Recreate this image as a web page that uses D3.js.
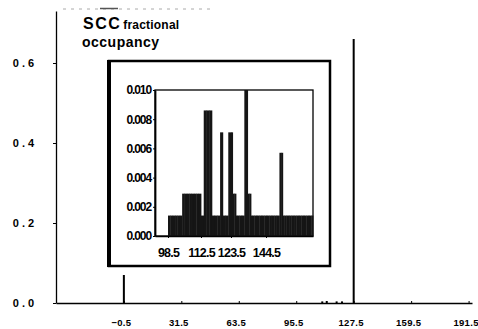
<!DOCTYPE html>
<html>
<head>
<meta charset="utf-8">
<script src="https://cdn.jsdelivr.net/npm/d3@7"></script>
<style>
  html, body { margin: 0; padding: 0; background: #fff; }
  svg { display: block; font-family: "Liberation Sans", Arial, sans-serif; }
  .tick text { font-weight: bold; fill: #000; }
</style>
</head>
<body>
<svg id="chart" width="478" height="329"></svg>
<script>
/* SCC fractional occupancy — main histogram with zoomed inset */

// main histogram
const mainTicks = [-0.5, 31.5, 63.5, 95.5, 127.5, 159.5, 191.5];
const mainYTicks = [0, 0.2, 0.4, 0.6];
const mainBins = [-0.5, 110, 112.5, 118, 121, 127.5];
const mainValues = [0.07, 0.004, 0.005, 0.004, 0.004, 0.66];

// inset (bins of width 1, centred on integers)
const insetTicks = [98.5, 112.5, 123.5, 144.5];
const insetYTicks = [0, 0.002, 0.004, 0.006, 0.008, 0.010];
const insetBins = [
  99, 100, 101, 102, 103, 104, 105, 106, 107, 108, 109, 110, 111, 112,
  113, 114, 115, 116, 117, 118, 119, 120, 121, 122, 123, 124, 125, 126,
  127, 128, 129, 130, 131, 132, 133, 134, 135, 136, 137, 138, 139, 140,
  141, 142, 143, 144, 145, 146, 147, 148, 149, 150, 151, 152, 153, 154,
  155, 156, 157, 158, 159, 160, 161, 162, 163, 164, 165, 166, 167, 168,
  169, 170, 171, 172
];
const insetValues = [
  0.0014, 0.0014, 0.0014, 0.0014, 0.0014, 0.0014, 0.0029, 0.0029, 0.0029, 0.0029, 0.0029, 0.0029, 0.0029, 0.0029,
  0.0014, 0.0086, 0.0086, 0.0086, 0.0014, 0.0014, 0.0014, 0.0071, 0.0014, 0.0014, 0.0071, 0.0071, 0.0029, 0.0029,
  0.0014, 0.0014, 0.0014, 0.0014, 0.0014, 0.0100, 0.0100, 0.0029, 0.0029, 0.0014, 0.0014, 0.0014, 0.0014, 0.0014,
  0.0014, 0.0014, 0.0014, 0.0014, 0.0014, 0.0014, 0.0014, 0.0014, 0.0014, 0.0014, 0.0014, 0.0014, 0.0057, 0.0057,
  0.0014, 0.0014, 0.0014, 0.0014, 0.0014, 0.0014, 0.0014, 0.0014, 0.0014, 0.0014, 0.0014, 0.0014, 0.0014, 0.0014,
  0.0014, 0.0014, 0.0014, 0.0014
];

const svg = d3.select('#chart');

// ── main axes ──
const x = d3.scaleLinear().domain([-38.3, 193.4]).range([56, 472]);
const y = d3.scaleLinear().domain([0, 0.73]).range([303, 11]);

// faint scan border along the top
svg.append('line')
  .attr('x1', 63).attr('x2', 215).attr('y1', 9).attr('y2', 9)
  .attr('stroke', '#aaa').attr('stroke-dasharray', '3,5');
svg.append('line')
  .attr('x1', 100).attr('x2', 118).attr('y1', 8.5).attr('y2', 8.5)
  .attr('stroke', '#555').attr('stroke-width', 1.5);

const xAxis = svg.append('g')
  .attr('transform', `translate(0,${y(0)})`)
  .call(d3.axisBottom(x).tickValues(mainTicks).tickSize(2).tickSizeOuter(0)
    .tickFormat(d3.format('.1f')));
xAxis.select('.domain').attr('stroke-width', 1.5);
xAxis.selectAll('.tick line').attr('y2', -2);
xAxis.selectAll('.tick text')
  .attr('y', 16).attr('dx', -3).attr('font-size', 9.5).attr('letter-spacing', 0.3);

const yAxis = svg.append('g')
  .attr('transform', `translate(${x(-38.3)},0)`)
  .call(d3.axisLeft(y).tickValues(mainYTicks).tickSize(3).tickSizeOuter(0)
    .tickFormat(d3.format('.1f')));
yAxis.select('.domain').attr('stroke-width', 1.3);
yAxis.selectAll('.tick text')
  .attr('x', -31).attr('text-anchor', 'middle')
  .attr('font-size', 11).attr('letter-spacing', 3);

svg.append('g').selectAll('rect')
  .data(mainBins)
  .join('rect')
  .attr('x', d => x(d) - 1)
  .attr('width', 2)
  .attr('y', (d, i) => y(mainValues[i]))
  .attr('height', (d, i) => y(0) - y(mainValues[i]))
  .attr('fill', '#000');

// title
svg.append('text')
  .attr('x', 83).attr('y', 29)
  .attr('font-weight', 'bold')
  .call(t => {
    t.append('tspan').attr('font-size', 16).attr('letter-spacing', 1.5).text('SCC');
    t.append('tspan').attr('font-size', 12).attr('dx', 2).attr('letter-spacing', 0.2).text('fractional');
  });
svg.append('text')
  .attr('x', 82).attr('y', 47)
  .attr('font-weight', 'bold').attr('font-size', 14).attr('letter-spacing', 0.5)
  .text('occupancy');

// ── inset ──
svg.append('rect')
  .attr('x', 109).attr('y', 61).attr('width', 221).attr('height', 205)
  .attr('fill', '#fff').attr('stroke', '#000').attr('stroke-width', 2.5);
svg.append('line')
  .attr('x1', 109).attr('x2', 109).attr('y1', 60).attr('y2', 267)
  .attr('stroke', '#000').attr('stroke-width', 4);

const ix = d3.scaleLinear()
  .domain([93, 98.5, 112.5, 123.5, 144.5, 172.5])
  .range([155, 168, 201, 231, 266, 313]);
const iy = d3.scaleLinear().domain([0, 0.010]).range([236, 90]);

// frame
svg.append('rect')
  .attr('x', ix(93)).attr('y', iy(0.010))
  .attr('width', ix(172.5) - ix(93)).attr('height', iy(0) - iy(0.010))
  .attr('fill', 'none').attr('stroke', '#000').attr('stroke-width', 1.3);

// bars overlap slightly so the low band reads as one dark block
svg.append('g').selectAll('rect')
  .data(insetBins)
  .join('rect')
  .attr('x', d => ix(d - 0.5))
  .attr('width', d => ix(d + 0.5) - ix(d - 0.5) + 0.4)
  .attr('y', (d, i) => iy(insetValues[i]))
  .attr('height', (d, i) => iy(0) - iy(insetValues[i]))
  .attr('fill', '#151515');

const ixAxis = svg.append('g')
  .attr('transform', `translate(0,${iy(0)})`)
  .call(d3.axisBottom(ix).tickValues(insetTicks).tickSize(2).tickSizeOuter(0)
    .tickFormat(d3.format('.1f')));
ixAxis.select('.domain').attr('stroke-width', 1.3);
ixAxis.selectAll('.tick text')
  .attr('y', 12).attr('font-size', 12.5).attr('letter-spacing', -0.8);

const iyAxis = svg.append('g')
  .attr('transform', `translate(${ix(93)},0)`)
  .call(d3.axisLeft(iy).tickValues(insetYTicks).tickSize(2).tickSizeOuter(0)
    .tickFormat(d3.format('.3f')));
iyAxis.select('.domain').attr('stroke-width', 1.8);
iyAxis.selectAll('.tick text')
  .attr('x', -4).attr('font-size', 12).attr('letter-spacing', -1.1);
</script>
</body>
</html>
